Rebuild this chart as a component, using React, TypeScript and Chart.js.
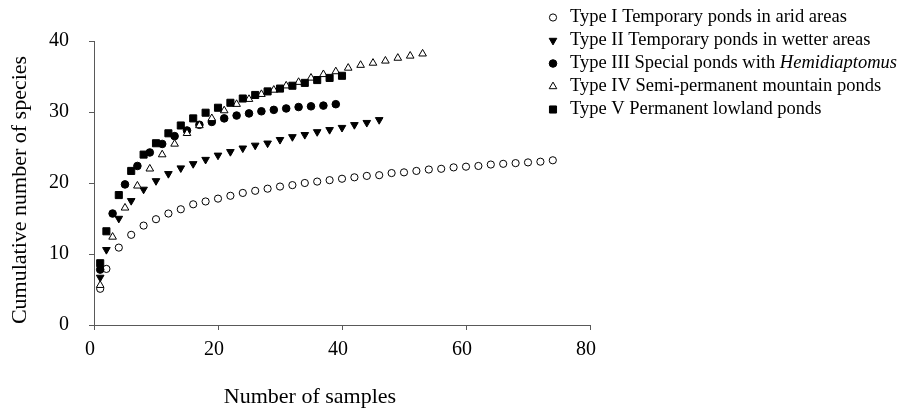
import React, { useEffect, useRef } from 'react';
import { Chart, registerables } from 'chart.js';
import { drawPoint } from 'chart.js/helpers';

Chart.register(...registerables);

const seriesNames = [
  'Type I Temporary ponds in arid areas',
  'Type II Temporary ponds in wetter areas',
  'Type III Special ponds with ',
  'Type IV Semi-permanent mountain ponds',
  'Type V Permanent lowland ponds',
];
const seriesItalic = ['', '', 'Hemidiaptomus', '', ''];

const typeI_x = [1, 2, 4, 6, 8, 10, 12, 14, 16, 18, 20, 22, 24, 26, 28, 30, 32, 34, 36, 38, 40, 42, 44, 46, 48, 50, 52, 54, 56, 58, 60, 62, 64, 66, 68, 70, 72, 74];
const typeI_y = [5.1, 7.9, 10.9, 12.7, 14.0, 14.9, 15.7, 16.3, 17.0, 17.4, 17.8, 18.2, 18.6, 18.9, 19.2, 19.5, 19.7, 20.0, 20.2, 20.4, 20.6, 20.8, 21.0, 21.1, 21.4, 21.5, 21.7, 21.9, 22.0, 22.2, 22.3, 22.4, 22.6, 22.7, 22.8, 22.9, 23.0, 23.2];

const typeII_x = [1, 2, 4, 6, 8, 10, 12, 14, 16, 18, 20, 22, 24, 26, 28, 30, 32, 34, 36, 38, 40, 42, 44, 46];
const typeII_y = [6.7, 10.6, 15.0, 17.5, 19.1, 20.3, 21.3, 22.1, 22.7, 23.3, 23.9, 24.4, 24.9, 25.3, 25.6, 26.1, 26.5, 26.8, 27.2, 27.5, 27.8, 28.2, 28.5, 28.9];

const typeIII_x = [1, 3, 5, 7, 9, 11, 13, 15, 17, 19, 21, 23, 25, 27, 29, 31, 33, 35, 37, 39];
const typeIII_y = [7.8, 15.7, 19.8, 22.4, 24.3, 25.5, 26.6, 27.4, 28.2, 28.6, 29.1, 29.5, 29.8, 30.1, 30.3, 30.5, 30.7, 30.8, 30.9, 31.1];

const typeIV_x = [1, 3, 5, 7, 9, 11, 13, 15, 17, 19, 21, 23, 25, 27, 29, 31, 33, 35, 37, 39, 41, 43, 45, 47, 49, 51, 53];
const typeIV_y = [5.6, 12.4, 16.5, 19.6, 22.0, 24.0, 25.5, 27.0, 28.1, 29.1, 30.2, 31.1, 31.8, 32.5, 33.1, 33.7, 34.2, 34.8, 35.3, 35.7, 36.2, 36.6, 36.9, 37.2, 37.6, 37.9, 38.2];

const typeV_x = [1, 2, 4, 6, 8, 10, 12, 14, 16, 18, 20, 22, 24, 26, 28, 30, 32, 34, 36, 38, 40];
const typeV_y = [8.7, 13.2, 18.3, 21.7, 24.0, 25.6, 27.0, 28.1, 29.1, 29.9, 30.6, 31.3, 31.9, 32.4, 32.9, 33.3, 33.7, 34.1, 34.5, 34.8, 35.1];

const xTickValues = [0, 20, 40, 60, 80];
const yTickValues = [0, 10, 20, 30, 40];
const xTitle = 'Number of samples';
const yTitle = 'Cumulative number of species';

const FONT = '"Liberation Serif", "Times New Roman", serif';

const markerStyles = [
  { pointStyle: 'circle', rotation: 0, radius: 3.6, fill: '#ffffff' },
  { pointStyle: 'triangle', rotation: 180, radius: 4.4, fill: '#000000' },
  { pointStyle: 'circle', rotation: 0, radius: 3.8, fill: '#000000' },
  { pointStyle: 'triangle', rotation: 0, radius: 4.4, fill: '#ffffff' },
  { pointStyle: 'rect', rotation: 0, radius: 5, fill: '#000000' },
];

const toPoints = (xs: number[], ys: number[]) => xs.map((x, i) => ({ x, y: ys[i] }));

const overlayPlugin = {
  id: 'overlayText',
  afterDraw(chart: any) {
    const ctx = chart.ctx as CanvasRenderingContext2D;
    const area = chart.chartArea;
    ctx.save();
    ctx.fillStyle = '#000';
    ctx.textBaseline = 'middle';

    // x-axis title
    ctx.font = `22px ${FONT}`;
    ctx.textAlign = 'center';
    ctx.fillText(xTitle, (area.left + area.right) / 2 - 32, 397);

    // y-axis title
    ctx.save();
    ctx.translate(20, (area.top + area.bottom) / 2 + 7);
    ctx.rotate(-Math.PI / 2);
    ctx.fillText(yTitle, 0, 0);
    ctx.restore();

    // legend
    ctx.textAlign = 'left';
    chart.data.datasets.forEach((ds: any, i: number) => {
      const y = 17.5 + i * 23;
      const m = markerStyles[i];
      ctx.fillStyle = m.fill;
      ctx.strokeStyle = '#000';
      ctx.lineWidth = 1;
      drawPoint(ctx, { pointStyle: m.pointStyle as any, rotation: m.rotation, radius: m.radius, borderWidth: 1 }, 553, y);
      ctx.fillStyle = '#000';
      ctx.font = `18.5px ${FONT}`;
      ctx.fillText(seriesNames[i], 570, y);
      if (seriesItalic[i]) {
        const w = ctx.measureText(seriesNames[i]).width;
        ctx.font = `italic 18.5px ${FONT}`;
        ctx.fillText(seriesItalic[i], 570 + w, y);
      }
    });
    ctx.restore();
  },
};

export default function App() {
  const canvasRef = useRef<HTMLCanvasElement | null>(null);

  useEffect(() => {
    document.body.style.margin = '0';
    const canvas = canvasRef.current;
    if (!canvas) return;
    const allX = [typeI_x, typeII_x, typeIII_x, typeIV_x, typeV_x];
    const allY = [typeI_y, typeII_y, typeIII_y, typeIV_y, typeV_y];
    const datasets = allX.map((xs, i) => {
      const m = markerStyles[i];
      return {
        label: seriesNames[i] + seriesItalic[i],
        data: toPoints(xs, allY[i]),
        pointStyle: m.pointStyle,
        rotation: m.rotation,
        pointRadius: m.radius,
        pointBackgroundColor: m.fill,
        pointBorderColor: '#000000',
        pointBorderWidth: 1,
        showLine: false,
        order: 5 - i,
      };
    });

    const chart = new Chart(canvas, {
      type: 'scatter',
      data: { datasets: datasets as any },
      options: {
        animation: false,
        responsive: false,
        devicePixelRatio: 1,
        layout: { padding: { left: 0, top: 41, right: 313, bottom: 0 } },
        plugins: {
          legend: { display: false },
          tooltip: { enabled: false },
        },
        scales: {
          x: {
            type: 'linear',
            min: 0,
            max: 80,
            afterBuildTicks: (scale: any) => {
              scale.ticks = xTickValues.map((v) => ({ value: v }));
            },
            afterFit: (scale: any) => {
              scale.height = 83;
            },
            ticks: {
              color: '#000',
              font: { family: FONT, size: 20 },
              padding: 8,
              maxRotation: 0,
              labelOffset: -4,
            },
            grid: {
              drawOnChartArea: false,
              drawTicks: true,
              tickLength: 5,
              color: '#595959',
            },
            border: { display: true, color: '#595959', width: 1 },
          },
          y: {
            type: 'linear',
            min: 0,
            max: 40,
            afterBuildTicks: (scale: any) => {
              scale.ticks = yTickValues.map((v) => ({ value: v }));
            },
            afterFit: (scale: any) => {
              scale.width = 94;
            },
            ticks: {
              color: '#000',
              font: { family: FONT, size: 20 },
              padding: 20,
            },
            grid: {
              drawOnChartArea: false,
              drawTicks: true,
              tickLength: 5,
              color: '#595959',
            },
            border: { display: true, color: '#595959', width: 1 },
          },
        },
      },
      plugins: [overlayPlugin],
    });

    return () => {
      chart.destroy();
    };
  }, []);

  return (
    <div style={{ position: 'fixed', left: 0, top: 0, width: 903, height: 408, background: '#fff' }}>
      <canvas ref={canvasRef} width={903} height={408} style={{ width: 903, height: 408, display: 'block' }} />
    </div>
  );
}
